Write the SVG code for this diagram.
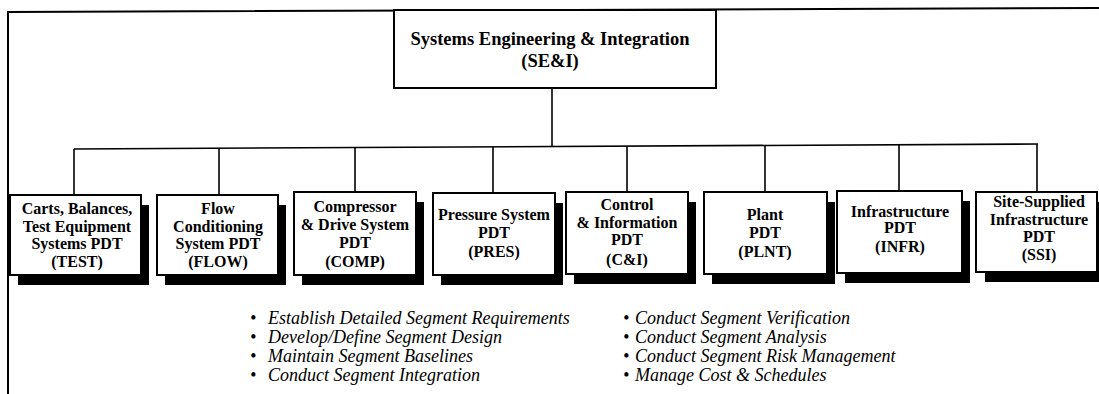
<svg xmlns="http://www.w3.org/2000/svg" width="1099" height="394" viewBox="0 0 1099 394">
<style>
.frame{fill:none;stroke:#000;stroke-width:2}
.conn{fill:none;stroke:#000;stroke-width:1.6}
.box{fill:#fff;stroke:#000;stroke-width:2}
.shadow{fill:#000}
.t{font-family:"Liberation Serif","Times New Roman",serif;font-weight:bold;font-size:16px;text-anchor:middle;fill:#000}
.tt{font-family:"Liberation Serif","Times New Roman",serif;font-weight:bold;font-size:18.5px;text-anchor:middle;fill:#000}
.b{font-family:"Liberation Serif","Times New Roman",serif;font-style:italic;font-size:18px;fill:#000}
</style>
<rect width="1099" height="394" fill="#fff"/>
<g id="frame">
<path class="frame" d="M8,394 L8,12 L1099,8"/>
</g>
<g id="connectors">
<path class="conn" d="M552,88 L552,146.5"/>
<path class="conn" d="M74,149 L1038,144"/>
<path class="conn" d="M74,149 L74,195"/>
<path class="conn" d="M219,148.2 L219,195"/>
<path class="conn" d="M355,147.5 L355,192"/>
<path class="conn" d="M493,146.8 L493,193"/>
<path class="conn" d="M627,146.1 L627,192"/>
<path class="conn" d="M765,145.4 L765,192"/>
<path class="conn" d="M899,144.7 L899,191"/>
<path class="conn" d="M1037,144 L1037,192"/>
</g>
<g id="sei">
<rect class="box" x="394" y="10" width="322" height="78"/>
<text class="tt" x="550" y="45">Systems Engineering &amp; Integration</text>
<text class="tt" x="550" y="67">(SE&amp;I)</text>
</g>
<g id="test">
<rect class="shadow" x="18" y="205" width="131" height="80"/>
<rect class="box" x="10" y="195" width="131" height="80"/>
<text class="t" x="77" y="214">Carts, Balances,</text>
<text class="t" x="77" y="232">Test Equipment</text>
<text class="t" x="77" y="249">Systems PDT</text>
<text class="t" x="77" y="267">(TEST)</text>
</g>
<g id="flow">
<rect class="shadow" x="165" y="205" width="121" height="80"/>
<rect class="box" x="157" y="195" width="121" height="80"/>
<text class="t" x="218" y="214">Flow</text>
<text class="t" x="218" y="232">Conditioning</text>
<text class="t" x="218" y="249">System PDT</text>
<text class="t" x="218" y="267">(FLOW)</text>
</g>
<g id="comp">
<rect class="shadow" x="302" y="202" width="122" height="83"/>
<rect class="box" x="294" y="192" width="122" height="83"/>
<text class="t" x="355" y="212">Compressor</text>
<text class="t" x="355" y="230">&amp; Drive System</text>
<text class="t" x="355" y="248">PDT</text>
<text class="t" x="355" y="267">(COMP)</text>
</g>
<g id="pres">
<rect class="shadow" x="441" y="203" width="122" height="82"/>
<rect class="box" x="433" y="193" width="122" height="82"/>
<text class="t" x="494" y="220">Pressure System</text>
<text class="t" x="494" y="238">PDT</text>
<text class="t" x="494" y="257">(PRES)</text>
</g>
<g id="ci">
<rect class="shadow" x="574" y="202" width="122" height="82"/>
<rect class="box" x="566" y="192" width="122" height="82"/>
<text class="t" x="627" y="210">Control</text>
<text class="t" x="627" y="228">&amp; Information</text>
<text class="t" x="627" y="245">PDT</text>
<text class="t" x="627" y="265">(C&amp;I)</text>
</g>
<g id="plnt">
<rect class="shadow" x="712" y="202" width="123" height="82"/>
<rect class="box" x="704" y="192" width="123" height="82"/>
<text class="t" x="765" y="220">Plant</text>
<text class="t" x="765" y="238">PDT</text>
<text class="t" x="765" y="257">(PLNT)</text>
</g>
<g id="infr">
<rect class="shadow" x="845" y="201" width="125" height="82"/>
<rect class="box" x="837" y="191" width="125" height="82"/>
<text class="t" x="900" y="217">Infrastructure</text>
<text class="t" x="900" y="233">PDT</text>
<text class="t" x="900" y="252">(INFR)</text>
</g>
<g id="ssi">
<rect class="shadow" x="985" y="202" width="121" height="80"/>
<rect class="box" x="976" y="192" width="121" height="80"/>
<text class="t" x="1039" y="207">Site-Supplied</text>
<text class="t" x="1039" y="225">Infrastructure</text>
<text class="t" x="1039" y="242">PDT</text>
<text class="t" x="1039" y="260">(SSI)</text>
</g>
<g id="tasks">
<text class="b" x="250" y="324">•</text><text class="b" x="268" y="324">Establish Detailed Segment Requirements</text>
<text class="b" x="250" y="343">•</text><text class="b" x="268" y="343">Develop/Define Segment Design</text>
<text class="b" x="250" y="362">•</text><text class="b" x="268" y="362">Maintain Segment Baselines</text>
<text class="b" x="250" y="381">•</text><text class="b" x="268" y="381">Conduct Segment Integration</text>
<text class="b" x="623" y="324">•</text><text class="b" x="635" y="324">Conduct Segment Verification</text>
<text class="b" x="623" y="343">•</text><text class="b" x="635" y="343">Conduct Segment Analysis</text>
<text class="b" x="623" y="362">•</text><text class="b" x="635" y="362">Conduct Segment Risk Management</text>
<text class="b" x="623" y="381">•</text><text class="b" x="635" y="381">Manage Cost &amp; Schedules</text>
</g>
</svg>
